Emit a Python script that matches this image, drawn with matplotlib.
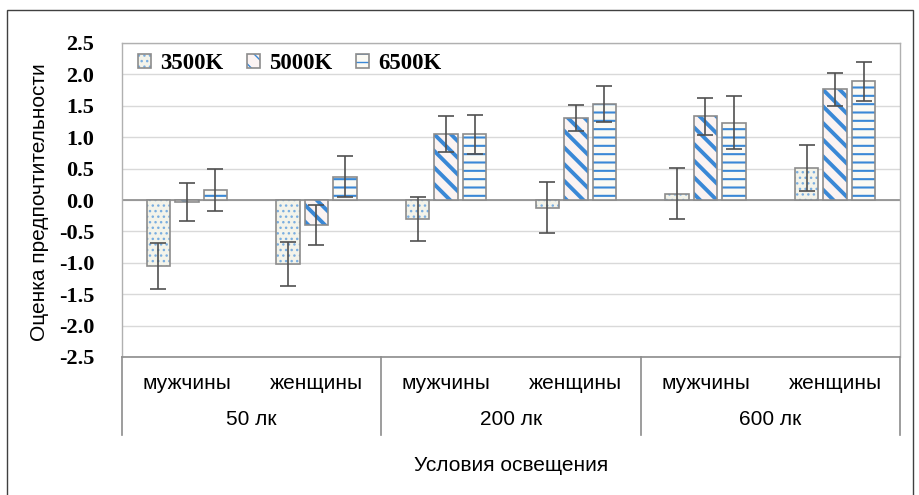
import matplotlib
matplotlib.use("Agg")
import matplotlib.pyplot as plt
import matplotlib.transforms as mtransforms
from matplotlib.patches import Rectangle
import numpy as np

# preference scores by lighting condition / gender, three colour temperatures
groups = ["мужчины", "женщины", "мужчины", "женщины", "мужчины", "женщины"]
levels = ["50 лк", "200 лк", "600 лк"]
series = ["3500K", "5000K", "6500K"]

vals_3500 = [-1.05, -1.02, -0.30, -0.12, 0.10, 0.51]
vals_5000 = [-0.03, -0.40, 1.05, 1.31, 1.33, 1.76]
vals_6500 = [0.16, 0.37, 1.05, 1.53, 1.23, 1.89]

err_3500 = [0.37, 0.35, 0.35, 0.40, 0.41, 0.37]
err_5000 = [0.30, 0.32, 0.28, 0.21, 0.30, 0.27]
err_6500 = [0.34, 0.33, 0.31, 0.28, 0.42, 0.31]

plt.rcParams["axes.unicode_minus"] = False

EDGE = "#8c8c8c"
styles = [
    # face, hatch colour, hatch, hatch linewidth
    ("#f3f3ea", "#7aaee0", "...", 1.0),
    ("#fbf3f2", "#3a88d6", "\\\\", 2.8),
    ("#fbfaf4", "#3a88d6", "--", 1.5),
]

fig = plt.figure(figsize=(9.2, 4.95), dpi=100)
ax = fig.add_axes([122 / 920, 138 / 495, 778 / 920, 314 / 495])

x = np.arange(len(groups))
width = 0.18
offsets = [-0.22, 0.0, 0.22]
all_vals = [vals_3500, vals_5000, vals_6500]
all_errs = [err_3500, err_5000, err_6500]

handles = []
for vals, errs, off, (face, hcol, hatch, hlw) in zip(all_vals, all_errs, offsets, styles):
    with plt.rc_context({"hatch.linewidth": hlw}):
        fill = ax.bar(x + off, vals, width, color=face, edgecolor=hcol,
                      hatch=hatch, linewidth=0, zorder=3)
    for p in fill:
        if hasattr(p, "set_hatch_linewidth"):
            p.set_hatch_linewidth(hlw)
    outline = ax.bar(x + off, vals, width, fill=False, edgecolor=EDGE,
                     linewidth=1.2, zorder=4)
    ax.errorbar(x + off, vals, yerr=errs, fmt="none", ecolor="#505050",
                elinewidth=1.2, capsize=6, capthick=1.2, zorder=5)
    handles.append((fill[0], outline[0]))

ax.set_xlim(-0.5, len(groups) - 0.5)
ax.set_ylim(-2.5, 2.5)
yt = np.arange(-2.5, 2.51, 0.5)
ax.set_yticks(yt)
ax.set_yticklabels([f"{v:.1f}" for v in yt], fontfamily="Liberation Serif",
                   fontweight="bold", fontsize=16)
ax.tick_params(axis="y", length=0, pad=20)
ax.set_xticks([])

ax.grid(axis="y", color="#d9d9d9", linewidth=1, zorder=0)
ax.set_axisbelow(True)
ax.axhline(0, color="#8c8c8c", linewidth=1.2, zorder=2)
for side in ["top", "left", "right"]:
    ax.spines[side].set_color("#b0b0b0")
    ax.spines[side].set_linewidth(1)
ax.spines["bottom"].set_color("#8c8c8c")
ax.spines["bottom"].set_linewidth(1.2)

# category table under the axis
trans = mtransforms.blended_transform_factory(ax.transData, ax.transAxes)
for bx in [-0.5, 1.5, 3.5, 5.5]:
    ax.plot([bx, bx], [0, -0.248], transform=trans, color="#8c8c8c",
            linewidth=1.2, clip_on=False)
for xi, g in zip(x, groups):
    ax.text(xi, -0.083, g, transform=trans, ha="center", va="center",
            fontfamily="Liberation Sans", fontsize=15)
for i, lv in enumerate(levels):
    ax.text(2 * i + 0.5, -0.2, lv, transform=trans, ha="center", va="center",
            fontfamily="Liberation Sans", fontsize=15)
ax.text(0.5, -0.347, "Условия освещения", transform=ax.transAxes,
        ha="center", va="center", fontfamily="Liberation Sans", fontsize=15)

fig.text(40 / 920, 1 - 202 / 495, "Оценка предпочтительности", rotation=90,
         ha="center", va="center", fontfamily="Liberation Sans", fontsize=15)

ax.legend(handles, series, loc="upper left", bbox_to_anchor=(0.02, 0.968),
          ncol=3, frameon=False, borderpad=0, borderaxespad=0,
          handlelength=0.6, handleheight=0.6, handletextpad=0.4,
          columnspacing=1.0,
          prop={"family": "Liberation Serif", "weight": "bold", "size": 16.5})

# outer frame
fig.patches.append(Rectangle((7 / 920, -0.01), 906 / 920, 0.99,
                             transform=fig.transFigure, fill=False,
                             edgecolor="#404040", linewidth=1))

fig.savefig("out.png", dpi=100)
